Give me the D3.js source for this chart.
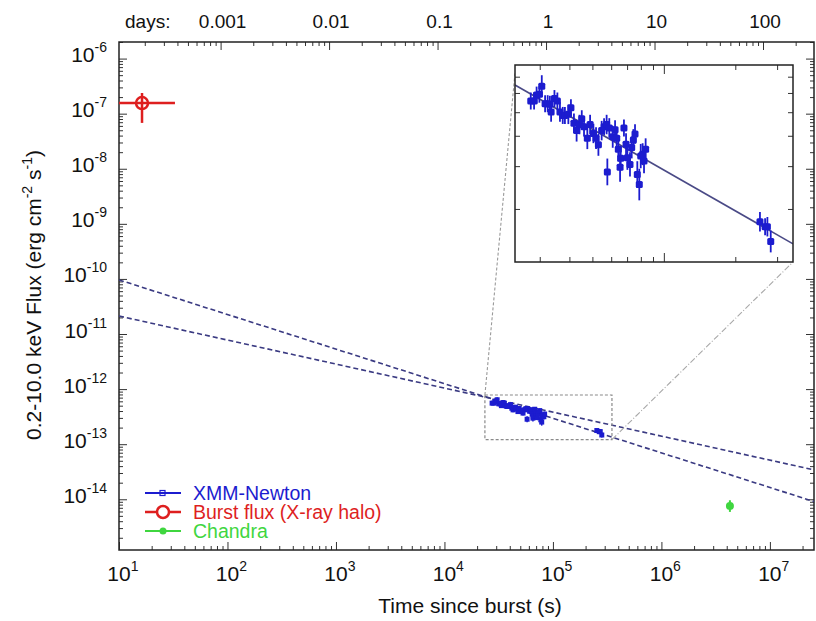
<!DOCTYPE html>
<html><head><meta charset="utf-8">
<script src="https://cdn.jsdelivr.net/npm/d3@7"></script>
<style>
body{margin:0;background:#fff;}
svg text{font-family:"Liberation Sans", Arial, Helvetica, sans-serif;}
</style></head><body>
<svg id="chart" width="816" height="621"></svg>
<script>
// ---------------- DATA ----------------
// XMM-Newton light curve (time since burst in s, 0.2-10 keV flux in erg/cm2/s)
const xmmTime = [2.75e4,2.84e4,2.91e4,2.99e4,3.06e4,3.16e4,3.24e4,3.31e4,3.35e4,3.46e4,
                 3.56e4,3.65e4,3.75e4,3.83e4,3.96e4,4.06e4,4.18e4,4.29e4,4.41e4,4.51e4,
                 4.61e4,4.76e4,4.89e4,5.05e4,5.18e4,5.30e4,5.47e4,5.60e4,5.74e4,5.78e4,
                 5.89e4,6.09e4,6.23e4,6.33e4,6.43e4,6.54e4,6.58e4,6.79e4,6.93e4,7.02e4,
                 7.20e4,7.32e4,7.44e4,7.56e4,7.73e4,7.88e4,7.99e4,8.14e4,8.25e4,8.38e4,
                 2.54e5,2.67e5,2.73e5,2.82e5];
const xmmFlux = [5.56e-13,5.56e-13,5.88e-13,5.93e-13,6.40e-13,5.42e-13,5.42e-13,5.39e-13,5.01e-13,5.69e-13,
                 5.56e-13,5.01e-13,4.85e-13,4.85e-13,4.90e-13,5.22e-13,4.50e-13,4.20e-13,4.45e-13,4.70e-13,
                 4.36e-13,3.91e-13,4.45e-13,4.09e-13,3.91e-13,3.67e-13,4.20e-13,4.36e-13,4.45e-13,2.84e-13,
                 4.31e-13,3.96e-13,4.23e-13,3.91e-13,3.52e-13,2.97e-13,3.23e-13,4.31e-13,3.69e-13,3.25e-13,
                 3.05e-13,3.58e-13,3.84e-13,4.07e-13,2.77e-13,2.52e-13,3.30e-13,3.36e-13,3.15e-13,3.52e-13,
                 1.77e-13,1.69e-13,1.69e-13,1.47e-13];
// symmetric error in dex
const xmmErrDex = [0.035,0.035,0.035,0.035,0.045,0.035,0.035,0.035,0.04,0.035,
                   0.035,0.04,0.035,0.035,0.04,0.035,0.04,0.045,0.04,0.035,
                   0.04,0.045,0.04,0.04,0.045,0.045,0.04,0.035,0.04,0.055,
                   0.04,0.045,0.04,0.045,0.05,0.06,0.05,0.035,0.045,0.05,
                   0.05,0.045,0.045,0.04,0.055,0.065,0.05,0.045,0.05,0.045,
                   0.04,0.035,0.04,0.045];
// Burst flux (X-ray halo)
const burstTime = [16.3], burstTimeLo = [8], burstTimeHi = [32.8];
const burstFlux = [1.56e-7], burstFluxLo = [6.8e-8], burstFluxHi = [2.37e-7];
// Chandra
const chandraTime = [4.28e6];
const chandraFlux = [7.55e-15], chandraFluxLo = [5.9e-15], chandraFluxHi = [9.6e-15];
// Power-law extrapolations (flux at t = 10 s, decay index)
const plNorm = [9.6e-11, 2.12e-11];
const plIndex = [0.628, 0.436];
// Inset fit: reference time, flux at reference, decay index
const insetFitRef = [2.36e4, 6.47e-13, 0.558];
// Axis ticks / labels
const xTickExp = [1,2,3,4,5,6,7];
const yTickExp = [-6,-7,-8,-9,-10,-11,-12,-13,-14];
const dayTicks = [0.001,0.01,0.1,1,10,100];
const dayLabels = ["0.001","0.01","0.1","1","10","100"];
const legendNames = ["XMM-Newton","Burst flux (X-ray halo)","Chandra"];
const colors = {xmm:"#1c1ccf", burst:"#de1f1f", chandra:"#3fd63f", pl:"#3a3a82"};

// ---------------- LAYOUT ----------------
const W=816,H=621;
const L=119,R=814,T=42,B=550;
const IL=515,IR=793,IT=65,IB=262;
const FONT = 21;

const x = d3.scaleLog().domain([10, 2.55e7]).range([L,R]);
const y = d3.scaleLog().domain([1.2e-15, 2e-6]).range([B,T]);
const xd = d3.scaleLog().domain([10/86400, 2.55e7/86400]).range([L,R]);
const xi = d3.scaleLog().domain([2.36e4, 3.5e5]).range([IL,IR]);
const yi = d3.scaleLog().domain([1.21e-13, 7.82e-13]).range([IB,IT]);

const svg = d3.select("#chart");
svg.append("rect").attr("width",W).attr("height",H).attr("fill","#fff");
const defs = svg.append("defs");
defs.append("clipPath").attr("id","plotClip").append("rect")
  .attr("x",L).attr("y",T).attr("width",R-L).attr("height",B-T);
defs.append("clipPath").attr("id","insetClip").append("rect")
  .attr("x",IL).attr("y",IT).attr("width",IR-IL).attr("height",IB-IT);

// ---------------- AXES ----------------
function minorsBetween(lo, hi){
  const out=[];
  for(let e=Math.floor(Math.log10(lo)); e<=Math.ceil(Math.log10(hi)); e++){
    for(let m=2;m<=9;m++){ const v=m*Math.pow(10,e); if(v>=lo && v<=hi) out.push(v); }
  }
  return out;
}
function styleAxis(g){
  g.select(".domain").remove();
  g.selectAll(".tick line").attr("stroke","#333").attr("stroke-width",1);
}
const xMajor = xTickExp.map(e=>Math.pow(10,e));
const yMajor = yTickExp.map(e=>Math.pow(10,e));
const xMinor = minorsBetween(10, 2.55e7);
const yMinor = minorsBetween(1.2e-15, 2e-6);
const dMinor = minorsBetween(10/86400, 2.55e7/86400);

const axes = svg.append("g");
axes.append("g").attr("transform",`translate(0,${B})`).call(d3.axisBottom(x).tickValues(xMajor).tickSize(-8).tickFormat("")).call(styleAxis);
axes.append("g").attr("transform",`translate(0,${B})`).call(d3.axisBottom(x).tickValues(xMinor).tickSize(-4).tickFormat("")).call(styleAxis);
axes.append("g").attr("transform",`translate(0,${T})`).call(d3.axisTop(xd).tickValues(dayTicks).tickSize(-8).tickFormat("")).call(styleAxis);
axes.append("g").attr("transform",`translate(0,${T})`).call(d3.axisTop(xd).tickValues(dMinor).tickSize(-4).tickFormat("")).call(styleAxis);
axes.append("g").attr("transform",`translate(${L},0)`).call(d3.axisLeft(y).tickValues(yMajor).tickSize(-8).tickFormat("")).call(styleAxis);
axes.append("g").attr("transform",`translate(${L},0)`).call(d3.axisLeft(y).tickValues(yMinor).tickSize(-4).tickFormat("")).call(styleAxis);
axes.append("g").attr("transform",`translate(${R},0)`).call(d3.axisRight(y).tickValues(yMajor).tickSize(-8).tickFormat("")).call(styleAxis);
axes.append("g").attr("transform",`translate(${R},0)`).call(d3.axisRight(y).tickValues(yMinor).tickSize(-4).tickFormat("")).call(styleAxis);

// frame
svg.append("rect").attr("x",L).attr("y",T).attr("width",R-L).attr("height",B-T)
  .attr("fill","none").attr("stroke","#222").attr("stroke-width",1.5);

// bottom labels
const xl = svg.append("g").attr("font-size",FONT).attr("fill","#111");
xMajor.forEach((v,i)=>{
  const t = xl.append("text").attr("x", x(v) - 11.7).attr("y", 581);
  t.append("tspan").text("10");
  t.append("tspan").attr("dy",-10).attr("font-size",14).text(xTickExp[i]);
});
// left labels
yMajor.forEach((v,i)=>{
  const t = xl.append("text").attr("x", 107).attr("y", y(v)+3.5).attr("text-anchor","end");
  t.append("tspan").text("10");
  t.append("tspan").attr("dy",-10).attr("font-size",14).text(yTickExp[i]);
});
// top labels
const tl = svg.append("g").attr("font-size",19).attr("fill","#111");
tl.append("text").attr("x",125).attr("y",28).text("days:");
dayTicks.forEach((v,i)=>{
  tl.append("text").attr("x", xd(v)+2).attr("y",28).attr("text-anchor","middle").text(dayLabels[i]);
});
// titles
svg.append("text").attr("x",470).attr("y",613).attr("text-anchor","middle").attr("font-size",FONT).attr("fill","#111").text("Time since burst (s)");
const yt = svg.append("text").attr("transform","translate(41,295) rotate(-90)").attr("text-anchor","middle").attr("font-size",FONT).attr("fill","#111");
yt.append("tspan").text("0.2-10.0 keV Flux (erg cm");
yt.append("tspan").attr("dy",-9).attr("font-size",14).text("-2");
yt.append("tspan").attr("dy",9).text(" s");
yt.append("tspan").attr("dy",-9).attr("font-size",14).text("-1");
yt.append("tspan").attr("dy",9).text(")");

// ---------------- MAIN PLOT ----------------
const plot = svg.append("g").attr("clip-path","url(#plotClip)");
plNorm.forEach((n,i)=>{
  const f = t => n*Math.pow(t/10, -plIndex[i]);
  plot.append("path").attr("d", d3.line()(x.domain().map(t=>[x(t), y(f(t))])))
    .attr("fill","none").attr("stroke",colors.pl).attr("stroke-width",1.6).attr("stroke-dasharray","5,3");
});
// zoom box
const bx0 = x(xi.domain()[0]), bx1 = x(xi.domain()[1]);
const by0 = y(yi.domain()[1]), by1 = y(yi.domain()[0]);
plot.append("rect").attr("x",bx0).attr("y",by0).attr("width",bx1-bx0).attr("height",by1-by0)
  .attr("fill","none").attr("stroke","#8a8a8a").attr("stroke-width",1.2).attr("stroke-dasharray","3,2");
// connectors
plot.append("line").attr("x1",bx0).attr("y1",by0).attr("x2",IL).attr("y2",IT+8)
  .attr("stroke","#9a9a9a").attr("stroke-width",1.1).attr("stroke-dasharray","3,2");
plot.append("line").attr("x1",bx1).attr("y1",by1).attr("x2",IR).attr("y2",IB)
  .attr("stroke","#a8a8a8").attr("stroke-width",1.1).attr("stroke-dasharray","6,2,1,2");

// XMM points main
const xmm = xmmTime.map((t,i)=>({t, f:xmmFlux[i], e:xmmErrDex[i]}));
const gm = plot.append("g");
gm.selectAll("line").data(xmm).join("line")
  .attr("x1",d=>x(d.t)).attr("x2",d=>x(d.t))
  .attr("y1",d=>y(d.f*Math.pow(10,d.e))).attr("y2",d=>y(d.f/Math.pow(10,d.e)))
  .attr("stroke",colors.xmm).attr("stroke-width",1.5);
gm.selectAll("rect").data(xmm).join("rect")
  .attr("x",d=>x(d.t)-2.5).attr("y",d=>y(d.f)-2.5).attr("width",5).attr("height",5)
  .attr("fill",colors.xmm);

// Burst point
burstTime.forEach((t,i)=>{
  const g = plot.append("g").attr("stroke",colors.burst).attr("stroke-width",2.5).attr("fill","none");
  g.append("line").attr("x1",x(burstTimeLo[i])).attr("x2",x(burstTimeHi[i])).attr("y1",y(burstFlux[i])).attr("y2",y(burstFlux[i]));
  g.append("line").attr("x1",x(t)).attr("x2",x(t)).attr("y1",y(burstFluxLo[i])).attr("y2",y(burstFluxHi[i]));
  g.append("circle").attr("cx",x(t)).attr("cy",y(burstFlux[i])).attr("r",6);
});
// Chandra point
chandraTime.forEach((t,i)=>{
  const g = plot.append("g");
  g.append("line").attr("x1",x(t)).attr("x2",x(t)).attr("y1",y(chandraFluxLo[i])).attr("y2",y(chandraFluxHi[i]))
    .attr("stroke",colors.chandra).attr("stroke-width",2);
  g.append("circle").attr("cx",x(t)).attr("cy",y(chandraFlux[i])).attr("r",4).attr("fill",colors.chandra);
});

// ---------------- LEGEND ----------------
const legY = [493, 512, 531];
const legColors = [colors.xmm, colors.burst, colors.chandra];
const leg = svg.append("g");
legendNames.forEach((name,i)=>{
  leg.append("line").attr("x1",145).attr("x2",181).attr("y1",legY[i]).attr("y2",legY[i])
    .attr("stroke",legColors[i]).attr("stroke-width", i===1?2.5:1.8);
  if(i===0) leg.append("rect").attr("x",160).attr("y",legY[i]-2.5).attr("width",5).attr("height",5).attr("fill","none").attr("stroke",legColors[i]).attr("stroke-width",1.2);
  if(i===1) leg.append("circle").attr("cx",163).attr("cy",legY[i]).attr("r",6).attr("fill","#fff").attr("stroke",legColors[i]).attr("stroke-width",2.5);
  if(i===2) leg.append("circle").attr("cx",163).attr("cy",legY[i]).attr("r",3.5).attr("fill",legColors[i]);
  leg.append("text").attr("x",193).attr("y",legY[i]+6.5).attr("font-size",19.5).attr("fill",legColors[i]).text(name);
});

// ---------------- INSET ----------------
const inset = svg.append("g");
inset.append("rect").attr("x",IL).attr("y",IT).attr("width",IR-IL).attr("height",IB-IT).attr("fill","#fff");
const ixMinor = minorsBetween(2.36e4, 3.5e5).filter(v=>v!==1e5);
const iyMinor = minorsBetween(1.21e-13, 7.82e-13);
inset.append("g").attr("transform",`translate(0,${IB})`).call(d3.axisBottom(xi).tickValues(ixMinor).tickSize(-5).tickFormat("")).call(styleAxis);
inset.append("g").attr("transform",`translate(0,${IB})`).call(d3.axisBottom(xi).tickValues([1e5]).tickSize(-9).tickFormat("")).call(styleAxis);
inset.append("g").attr("transform",`translate(0,${IT})`).call(d3.axisTop(xi).tickValues(ixMinor).tickSize(-5).tickFormat("")).call(styleAxis);
inset.append("g").attr("transform",`translate(0,${IT})`).call(d3.axisTop(xi).tickValues([1e5]).tickSize(-9).tickFormat("")).call(styleAxis);
inset.append("g").attr("transform",`translate(${IL},0)`).call(d3.axisLeft(yi).tickValues(iyMinor).tickSize(-5).tickFormat("")).call(styleAxis);
inset.append("g").attr("transform",`translate(${IR},0)`).call(d3.axisRight(yi).tickValues(iyMinor).tickSize(-5).tickFormat("")).call(styleAxis);
const ip = inset.append("g").attr("clip-path","url(#insetClip)");
const fitF = t => insetFitRef[1]*Math.pow(t/insetFitRef[0], -insetFitRef[2]);
ip.append("path").attr("d", d3.line()(xi.domain().map(t=>[xi(t), yi(fitF(t))])))
  .attr("fill","none").attr("stroke","#4a4a86").attr("stroke-width",1.6);
ip.selectAll("line.e").data(xmm).join("line").attr("class","e")
  .attr("x1",d=>xi(d.t)).attr("x2",d=>xi(d.t))
  .attr("y1",d=>yi(d.f*Math.pow(10,d.e))).attr("y2",d=>yi(d.f/Math.pow(10,d.e)))
  .attr("stroke",colors.xmm).attr("stroke-width",1.8);
ip.selectAll("rect.m").data(xmm).join("rect").attr("class","m")
  .attr("x",d=>xi(d.t)-3.5).attr("y",d=>yi(d.f)-3.5).attr("width",7).attr("height",7).attr("rx",1.5)
  .attr("fill",colors.xmm);
inset.append("rect").attr("x",IL).attr("y",IT).attr("width",IR-IL).attr("height",IB-IT)
  .attr("fill","none").attr("stroke","#222").attr("stroke-width",1.5);
</script>
</body></html>
